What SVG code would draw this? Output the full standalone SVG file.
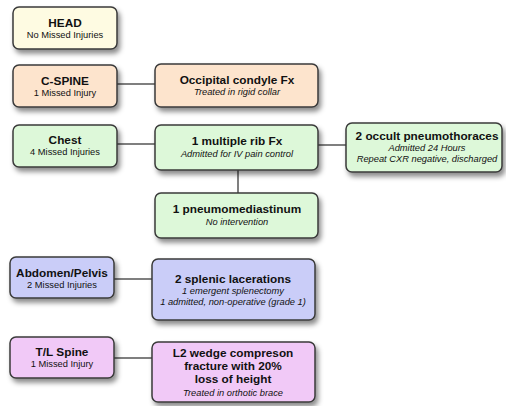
<svg xmlns="http://www.w3.org/2000/svg" width="506" height="406" viewBox="0 0 506 406">
<defs>
<filter id="sh" x="-10%" y="-10%" width="130%" height="140%">
<feDropShadow dx="2.5" dy="4" stdDeviation="2.8" flood-color="#000" flood-opacity="0.45"/>
</filter>
<style>
rect.box{stroke:#3a3a3a;stroke-width:1.5;filter:url(#sh)}
.y{fill:#fefbe2}.o{fill:#fde4cd}.g{fill:#ddf8d9}.b{fill:#cacdf8}.p{fill:#f1c9f7}
text{font-family:"Liberation Sans",Arial,sans-serif;text-anchor:middle;fill:#111}
.t{font-weight:bold;font-size:11.8px}
.s{font-size:9.3px}
.i{font-size:9.3px;font-style:italic}
#connectors line{stroke:#555;stroke-width:1.5}
</style>
</defs>
<rect width="506" height="406" fill="#fff"/>
<g id="connectors">
<line x1="117" y1="84" x2="155" y2="84"/>
<line x1="117" y1="144" x2="155" y2="144"/>
<line x1="318" y1="145" x2="346" y2="145"/>
<line x1="238" y1="170" x2="238" y2="193"/>
<line x1="113" y1="279" x2="152" y2="279"/>
<line x1="114" y1="358" x2="152" y2="358"/>
</g>
<g id="head"><rect class="box y" x="13" y="7" width="104" height="42" rx="6"/>
<text class="t" x="65" y="27">HEAD</text><text class="s" x="65" y="38">No Missed Injuries</text></g>
<g id="cspine"><rect class="box o" x="13" y="65" width="104" height="42" rx="6"/>
<text class="t" x="65" y="85">C-SPINE</text><text class="s" x="65" y="96">1 Missed Injury</text></g>
<g id="occipital"><rect class="box o" x="155" y="64" width="163" height="43" rx="6"/>
<text class="t" x="237" y="84">Occipital condyle Fx</text><text class="i" x="237" y="95">Treated in rigid collar</text></g>
<g id="chest"><rect class="box g" x="13" y="125" width="104" height="42" rx="6"/>
<text class="t" x="65" y="144">Chest</text><text class="s" x="65" y="155">4 Missed Injuries</text></g>
<g id="rib"><rect class="box g" x="155" y="125" width="163" height="45" rx="6"/>
<text class="t" x="237" y="145">1 multiple rib Fx</text><text class="i" x="237" y="157">Admitted for IV pain control</text></g>
<g id="occult"><rect class="box g" x="346" y="123" width="156" height="49" rx="6"/>
<text class="t" x="427" y="140">2 occult pneumothoraces</text><text class="i" x="427" y="151">Admitted 24 Hours</text><text class="i" x="427" y="162">Repeat CXR negative, discharged</text></g>
<g id="pneumo"><rect class="box g" x="155" y="193" width="163" height="45" rx="6"/>
<text class="t" x="237" y="213">1 pneumomediastinum</text><text class="i" x="237" y="225">No intervention</text></g>
<g id="abdomen"><rect class="box b" x="10" y="257" width="104" height="41" rx="6"/>
<text class="t" x="62" y="277">Abdomen/Pelvis</text><text class="s" x="62" y="288">2 Missed Injuries</text></g>
<g id="splenic"><rect class="box b" x="152" y="259" width="163" height="61" rx="6"/>
<text class="t" x="233" y="283">2 splenic lacerations</text><text class="i" x="233" y="293.5">1 emergent splenectomy</text><text class="i" x="233" y="304.5">1 admitted, non-operative (grade 1)</text></g>
<g id="tlspine"><rect class="box p" x="10" y="337" width="104" height="41" rx="6"/>
<text class="t" x="62" y="356">T/L Spine</text><text class="s" x="62" y="367">1 Missed Injury</text></g>
<g id="l2"><rect class="box p" x="152" y="342" width="163" height="60" rx="6"/>
<text class="t" x="233" y="357">L2 wedge compreson</text><text class="t" x="233" y="370">fracture with 20%</text><text class="t" x="233" y="383">loss of height</text><text class="i" x="233" y="396">Treated in orthotic brace</text></g>
</svg>
